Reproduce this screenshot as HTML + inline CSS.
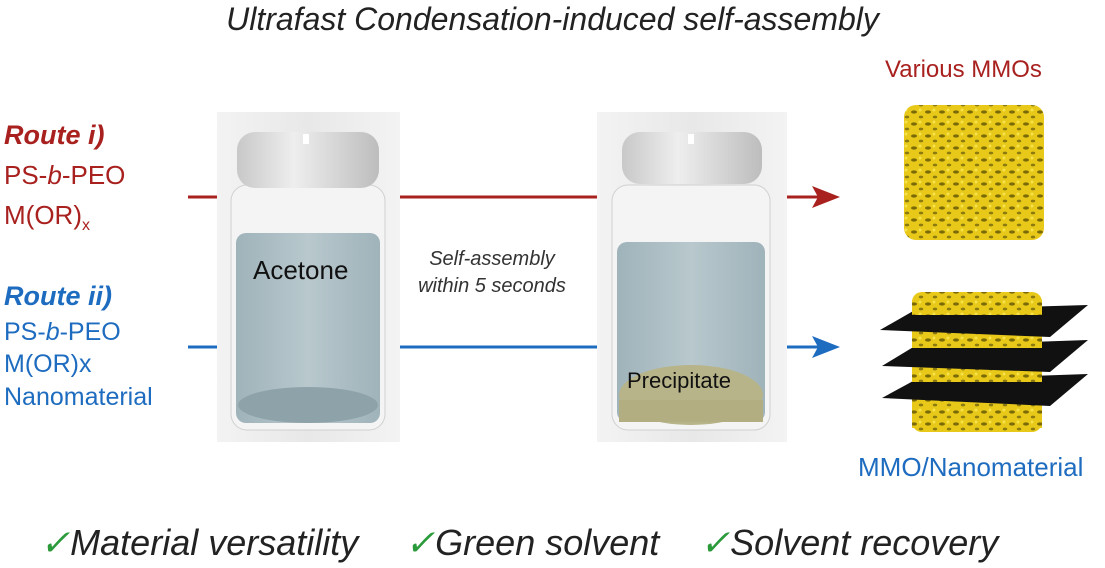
<!DOCTYPE html>
<html><head><meta charset="utf-8"><style>
body{margin:0;width:1105px;height:568px;background:#fff;position:relative;overflow:hidden;font-family:"Liberation Sans",sans-serif}
.t{position:absolute;white-space:nowrap}
.red{color:#a8211f}.blue{color:#1e6cc0}
.b{font-size:36px;font-style:italic;color:#222;top:522px}
.ck{color:#2a9a3a}
</style></head><body>
<div class="t" style="left:0;width:1105px;text-align:center;top:1px;font-size:32px;font-style:italic;color:#222">Ultrafast Condensation-induced self-assembly</div>

<div class="t red" style="left:4px;top:120px;font-size:27px;font-weight:bold;font-style:italic">Route i)</div>
<div class="t red" style="left:4px;top:160px;font-size:26px">PS-<i>b</i>-PEO</div>
<div class="t red" style="left:4px;top:200px;font-size:26px">M(OR)<sub style="font-size:16px">x</sub></div>

<div class="t blue" style="left:4px;top:281px;font-size:27px;font-weight:bold;font-style:italic">Route ii)</div>
<div class="t blue" style="left:4px;top:318px;font-size:25px">PS-<i>b</i>-PEO</div>
<div class="t blue" style="left:4px;top:350px;font-size:25px">M(OR)x</div>
<div class="t blue" style="left:4px;top:383px;font-size:25px">Nanomaterial</div>

<div class="t red" style="left:885px;top:56px;font-size:24px">Various MMOs</div>
<div class="t blue" style="left:858px;top:452px;font-size:26px">MMO/Nanomaterial</div>

<div class="t" style="left:392px;top:246px;font-size:20px;font-style:italic;color:#333;text-align:center;width:200px;line-height:27px">Self-assembly<br>within 5 seconds</div>

<div class="t b" style="left:40px"><span class="ck">✓</span>Material versatility</div>
<div class="t b" style="left:405px"><span class="ck">✓</span>Green solvent</div>
<div class="t b" style="left:700px"><span class="ck">✓</span>Solvent recovery</div>

<svg width="1105" height="568" style="position:absolute;left:0;top:0" xmlns="http://www.w3.org/2000/svg">
<defs>
<linearGradient id="panel" x1="0" x2="1"><stop offset="0" stop-color="#f3f3f3"/><stop offset=".5" stop-color="#e8e8e8"/><stop offset="1" stop-color="#f3f3f3"/></linearGradient>
<linearGradient id="liq" x1="0" x2="1"><stop offset="0" stop-color="#9fb3ba"/><stop offset=".5" stop-color="#b8c8cd"/><stop offset="1" stop-color="#9fb3ba"/></linearGradient>
<linearGradient id="cap" x1="0" x2="1"><stop offset="0" stop-color="#c8c8c8"/><stop offset=".4" stop-color="#eee"/><stop offset="1" stop-color="#bdbdbd"/></linearGradient>
<pattern id="foam" width="14" height="12" patternUnits="userSpaceOnUse"><rect width="14" height="12" fill="#e8c818"/><ellipse cx="4" cy="4" rx="3" ry="1.6" fill="#7a6a08"/><ellipse cx="11" cy="9" rx="2.2" ry="1.4" fill="#8a7a10"/><circle cx="10" cy="2" r="1.5" fill="#f6e24a"/></pattern>
</defs>
<line x1="188" y1="197" x2="217" y2="197" stroke="#a8211f" stroke-width="3"/>
<line x1="400" y1="197" x2="597" y2="197" stroke="#a8211f" stroke-width="3"/>
<line x1="785" y1="197" x2="820" y2="197" stroke="#a8211f" stroke-width="3"/>
<polygon points="812,186 840,197 812,208 818,197" fill="#a8211f"/>
<line x1="188" y1="347" x2="217" y2="347" stroke="#1e6cc0" stroke-width="3"/>
<line x1="400" y1="347" x2="597" y2="347" stroke="#1e6cc0" stroke-width="3"/>
<line x1="785" y1="347" x2="820" y2="347" stroke="#1e6cc0" stroke-width="3"/>
<polygon points="812,336 840,347 812,358 818,347" fill="#1e6cc0"/>

<g>
<rect x="217" y="112" width="183" height="330" fill="url(#panel)"/>
<rect x="231" y="185" width="154" height="245" rx="16" fill="#f4f4f4" stroke="#d0d0d0"/>
<rect x="236" y="233" width="144" height="190" rx="10" fill="url(#liq)"/>
<ellipse cx="308" cy="405" rx="70" ry="18" fill="#8ea2a9"/>
<rect x="237" y="132" width="142" height="56" rx="18" fill="url(#cap)"/>
<rect x="303" y="134" width="6" height="10" fill="#fff"/>
</g>
<g>
<rect x="597" y="112" width="190" height="330" fill="url(#panel)"/>
<rect x="612" y="185" width="158" height="245" rx="16" fill="#f4f4f4" stroke="#d0d0d0"/>
<rect x="617" y="242" width="148" height="180" rx="10" fill="url(#liq)"/>
<ellipse cx="691" cy="395" rx="72" ry="30" fill="#b8b48a"/>
<rect x="619" y="400" width="144" height="22" fill="#b3ae82"/>
<rect x="622" y="132" width="140" height="52" rx="18" fill="url(#cap)"/>
<rect x="688" y="134" width="6" height="10" fill="#fff"/>
</g>
<text x="627" y="388" font-family="Liberation Sans" font-size="22" fill="#111">Precipitate</text>
<text x="253" y="279" font-family="Liberation Sans" font-size="26" fill="#111">Acetone</text>

<rect x="904" y="105" width="140" height="135" rx="12" fill="url(#foam)"/>
<g>
<rect x="912" y="292" width="130" height="140" rx="10" fill="url(#foam)"/>
<polygon points="880,330 915,310 1088,305 1050,337" fill="#111"/>
<polygon points="882,366 915,346 1088,340 1050,372" fill="#111"/>
<polygon points="882,398 915,380 1088,374 1050,406" fill="#111"/>
<rect x="912" y="300" width="130" height="15" fill="url(#foam)"/>
<rect x="912" y="338" width="130" height="10" fill="url(#foam)"/>
<rect x="912" y="372" width="130" height="10" fill="url(#foam)"/>
<rect x="912" y="406" width="130" height="22" fill="url(#foam)"/>
</g>
</svg>
</body></html>
